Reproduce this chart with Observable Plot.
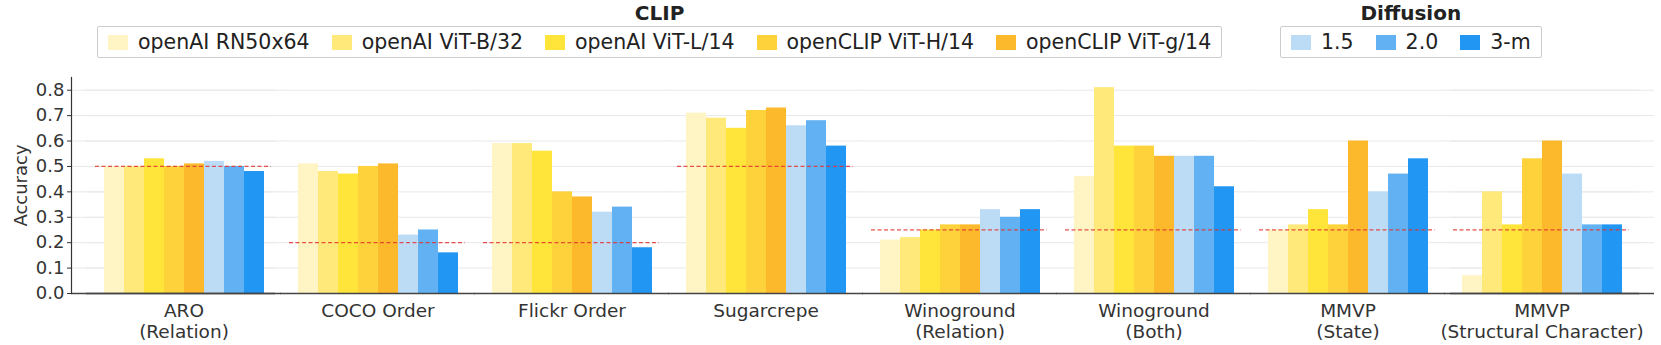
<!DOCTYPE html>
<html><head><meta charset="utf-8">
<script src="https://cdn.jsdelivr.net/npm/d3@7"></script>
<script src="https://cdn.jsdelivr.net/npm/@observablehq/plot@0.6"></script>
<style>
body{margin:0;background:#fff;font-family:"DejaVu Sans",sans-serif;}
#wrap{position:relative;width:1661px;height:345px;overflow:hidden;background:#fff}
.leg{position:absolute;top:0;display:flex;flex-direction:column;align-items:center}
.leg .t{font-weight:bold;font-size:20px;line-height:26px;color:#222}
.leg .box{display:flex;align-items:center;border:1px solid #ccc;border-radius:2px;padding:3px 10px;gap:22px;font-size:20.5px;line-height:24px;color:#222;white-space:nowrap}
.item{display:flex;align-items:center;gap:10px}
.sw{width:20px;height:15px}
#chart{position:absolute;left:0;top:70px}
</style></head>
<body>
<div id="wrap">
  <div class="leg" id="legClip" style="left:97px"><div class="t">CLIP</div><div class="box"></div></div>
  <div class="leg" id="legDiff" style="left:1280px"><div class="t">Diffusion</div><div class="box"></div></div>
  <div id="chart"></div>
</div>
<script>
const groups = ["ARO\n(Relation)", "COCO Order", "Flickr Order", "Sugarcrepe", "Winoground\n(Relation)", "Winoground\n(Both)", "MMVP\n(State)", "MMVP\n(Structural Character)"];
const clipModels = ["openAI RN50x64", "openAI ViT-B/32", "openAI ViT-L/14", "openCLIP ViT-H/14", "openCLIP ViT-g/14"];
const diffusionModels = ["1.5", "2.0", "3-m"];
const clipColors = ["#fff4c4", "#ffe97a", "#ffe43a", "#fdd23a", "#fbb92b"];
const diffusionColors = ["#bcdcf6", "#62b1f2", "#2196f3"];

const aro            = [0.50, 0.50, 0.53, 0.50, 0.51, 0.52, 0.50, 0.48];
const cocoOrder      = [0.51, 0.48, 0.47, 0.50, 0.51, 0.23, 0.25, 0.16];
const flickrOrder    = [0.59, 0.59, 0.56, 0.40, 0.38, 0.32, 0.34, 0.18];
const sugarcrepe     = [0.71, 0.69, 0.65, 0.72, 0.73, 0.66, 0.68, 0.58];
const winoRelation   = [0.21, 0.22, 0.25, 0.27, 0.27, 0.33, 0.30, 0.33];
const winoBoth       = [0.46, 0.81, 0.58, 0.58, 0.54, 0.54, 0.54, 0.42];
const mmvpState      = [0.25, 0.27, 0.33, 0.27, 0.60, 0.40, 0.47, 0.53];
const mmvpStructural = [0.07, 0.40, 0.27, 0.53, 0.60, 0.47, 0.27, 0.27];
const chance         = [0.50, 0.20, 0.20, 0.50, 0.25, 0.25, 0.25, 0.25];
const yTicks = [0, 0.1, 0.2, 0.3, 0.4, 0.5, 0.6, 0.7, 0.8];

const series = [aro, cocoOrder, flickrOrder, sugarcrepe, winoRelation, winoBoth, mmvpState, mmvpStructural];
const models = clipModels.concat(diffusionModels);
const colors = clipColors.concat(diffusionColors);
const data = [];
groups.forEach((g, i) => models.forEach((m, j) => data.push({group: g, model: m, value: series[i][j]})));
const chanceData = groups.map((g, i) => ({group: g, value: chance[i]}));

function fillLegend(sel, names, cols) {
  const box = document.querySelector(sel + " .box");
  names.forEach((n, i) => {
    const it = document.createElement("div"); it.className = "item";
    const sw = document.createElement("div"); sw.className = "sw"; sw.style.background = cols[i];
    const tx = document.createElement("span"); tx.textContent = n;
    it.appendChild(sw); it.appendChild(tx); box.appendChild(it);
  });
}
fillLegend("#legClip", clipModels, clipColors);
fillLegend("#legDiff", diffusionModels, diffusionColors);

const outer = 21; // px between the axis and the first facet band
const gridStyle = {stroke: "#e8e8e8", strokeWidth: 1};
const baseStyle = {stroke: "#444", strokeWidth: 1.5};
const chart = Plot.plot({
  width: 1661, height: 275,
  marginLeft: 69, marginRight: 6, marginTop: 7, marginBottom: 52,
  style: {fontFamily: "DejaVu Sans", fontSize: "18px", color: "#333", background: "#fff"},
  fx: {domain: groups, paddingInner: 0.059, paddingOuter: 0.108, label: null},
  x: {domain: models, paddingInner: 0, paddingOuter: 0.49, axis: null},
  y: {domain: [0, 0.85], label: null},
  color: {domain: models, range: colors},
  marks: [
    Plot.ruleY(yTicks.slice(1), {...gridStyle, insetLeft: -6, insetRight: -6}),
    Plot.ruleY(yTicks.slice(1), {...gridStyle, insetLeft: -outer, insetRight: 0, facetAnchor: "left"}),
    Plot.ruleY(yTicks.slice(1), {...gridStyle, insetLeft: 0, insetRight: -outer, facetAnchor: "right"}),
    Plot.barY(data, {fx: "group", x: "model", y: "value", fill: "model", inset: 0}),
    Plot.ruleY(chanceData, {fx: "group", y: "value", stroke: "#e3342f", strokeOpacity: 0.85, strokeDasharray: "4,2.5", strokeWidth: 1.3, insetLeft: 3, insetRight: 4}),
    Plot.ruleY([0], {...baseStyle, insetLeft: -6, insetRight: -6}),
    Plot.ruleY([0], {...baseStyle, insetLeft: -outer, insetRight: 0, facetAnchor: "left"}),
    Plot.ruleY([0], {...baseStyle, insetLeft: 0, insetRight: -outer, facetAnchor: "right"}),
    Plot.frame({anchor: "left", facetAnchor: "left", dx: -outer, stroke: "#333", strokeWidth: 1.2}),
    Plot.axisY({ticks: yTicks, tickFormat: d3.format(".1f"), tickSize: 4, tickPadding: 3, fontSize: 18, dx: -outer, label: "Accuracy", labelAnchor: "center", labelArrow: "none", labelOffset: 78}),
    Plot.axisFx({anchor: "bottom", tickSize: 0, tickPadding: 8, fontSize: 18.5, lineHeight: 1.15, label: null})
  ]
});
document.getElementById("chart").appendChild(chart);
</script>
</body></html>
